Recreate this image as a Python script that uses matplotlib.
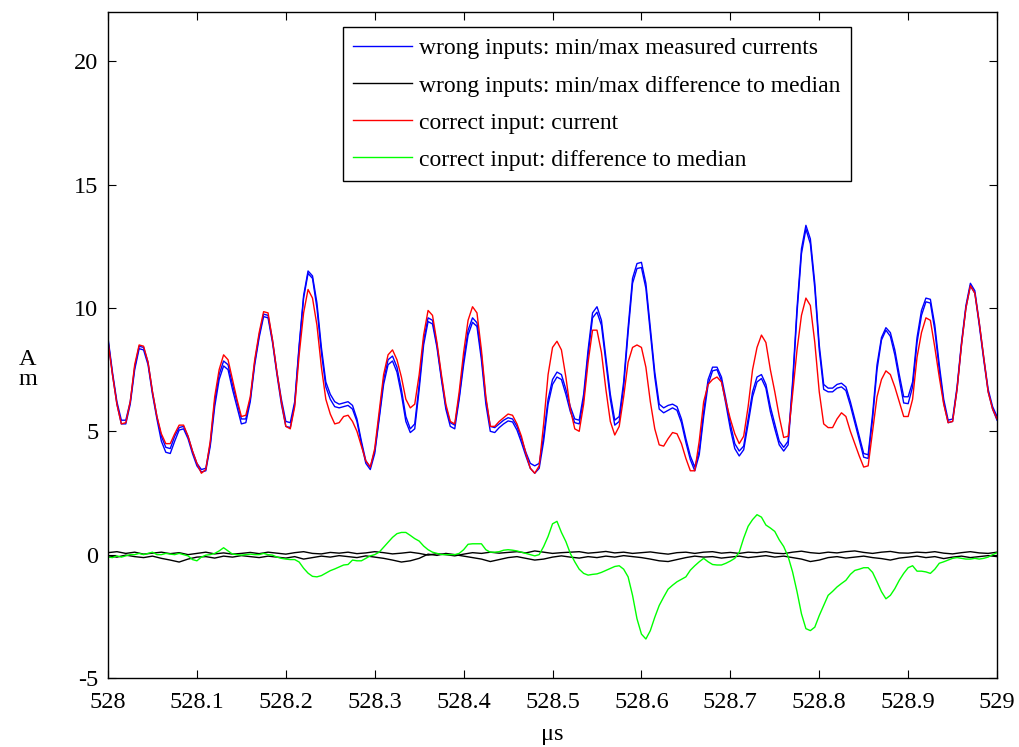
import numpy as np
import matplotlib
matplotlib.use("Agg")
import matplotlib.pyplot as plt

plt.rcParams["font.family"] = ["Liberation Serif", "DejaVu Serif"]
plt.rcParams["axes.unicode_minus"] = False

# sample grid: 528 .. 529 us, 5 ns step
t = np.linspace(528.0, 529.0, 201)

blue_max = [
    8.78, 7.4, 6.2, 5.45, 5.45, 6.2, 7.6, 8.45, 8.4, 7.8,
    6.6, 5.6, 4.8, 4.35, 4.3, 4.8, 5.15, 5.2, 4.8, 4.2,
    3.7, 3.45, 3.5, 4.5, 6.2, 7.3, 7.85, 7.7, 6.9, 6.2,
    5.5, 5.5, 6.3, 7.8, 8.9, 9.75, 9.7, 8.7, 7.4, 6.3,
    5.4, 5.35, 6.2, 8.5, 10.5, 11.5, 11.3, 10.2, 8.4, 7.0,
    6.5, 6.2, 6.1, 6.15, 6.2, 6.05, 5.5, 4.6, 3.8, 3.55,
    4.2, 5.6, 7.1, 7.9, 8.05, 7.6, 6.7, 5.6, 5.1, 5.3,
    6.9, 8.7, 9.6, 9.5, 8.5, 7.2, 6.0, 5.35, 5.25, 6.4,
    7.9, 9.1, 9.6, 9.4, 8.1, 6.3, 5.2, 5.15, 5.3, 5.45,
    5.55, 5.5, 5.2, 4.7, 4.15, 3.7, 3.6, 3.7, 4.8, 6.3,
    7.1, 7.4, 7.3, 6.7, 6.0, 5.5, 5.45, 6.5, 8.3, 9.8,
    10.05, 9.5, 8.0, 6.5, 5.45, 5.6, 7.0, 9.2, 11.2, 11.8,
    11.85, 11.0, 9.2, 7.4, 6.1, 5.95, 6.05, 6.1, 6.0, 5.5,
    4.7, 4.0, 3.55, 4.2, 5.8, 7.1, 7.6, 7.6, 7.2, 6.3,
    5.3, 4.5, 4.2, 4.4, 5.5, 6.6, 7.2, 7.3, 6.9, 6.0,
    5.3, 4.6, 4.35, 4.6, 7.0, 10.0, 12.4, 13.35, 12.8, 11.0,
    8.5, 6.9, 6.75, 6.75, 6.9, 6.95, 6.8, 6.2, 5.5, 4.8,
    4.1, 4.05, 5.7, 7.7, 8.8, 9.2, 9.0, 8.3, 7.3, 6.4,
    6.4, 7.0, 8.8, 9.9, 10.4, 10.35, 9.3, 7.7, 6.3, 5.45,
    5.5, 6.8, 8.6, 10.1, 11.0, 10.7, 9.4, 8.0, 6.7, 6.0,
    5.6,
]

blue_min = [
    8.7, 7.3, 6.1, 5.3, 5.3, 6.1, 7.5, 8.35, 8.3, 7.7,
    6.5, 5.5, 4.6, 4.15, 4.1, 4.6, 5.05, 5.1, 4.7, 4.1,
    3.6, 3.35, 3.4, 4.4, 6.0, 7.1, 7.65, 7.5, 6.7, 6.0,
    5.3, 5.35, 6.2, 7.7, 8.8, 9.65, 9.6, 8.6, 7.3, 6.1,
    5.2, 5.15, 6.1, 8.4, 10.4, 11.4, 11.2, 10.0, 8.2, 6.8,
    6.3, 6.0, 5.95, 6.0, 6.05, 5.9, 5.4, 4.5, 3.7, 3.45,
    4.1, 5.5, 6.9, 7.7, 7.85, 7.4, 6.5, 5.4, 4.95, 5.1,
    6.7, 8.5, 9.45, 9.35, 8.4, 7.1, 5.9, 5.2, 5.1, 6.3,
    7.7, 8.9, 9.42, 9.25, 7.9, 6.1, 5.0, 4.95, 5.15, 5.3,
    5.42, 5.38, 5.05, 4.55, 4.0, 3.5, 3.3, 3.5, 4.6, 6.1,
    6.9, 7.2, 7.1, 6.5, 5.8, 5.35, 5.3, 6.3, 8.1, 9.6,
    9.83, 9.3, 7.8, 6.3, 5.25, 5.4, 6.8, 9.0, 11.0, 11.6,
    11.64, 10.8, 9.0, 7.2, 5.9, 5.75, 5.85, 5.95, 5.85, 5.35,
    4.55, 3.85, 3.4, 4.05, 5.6, 6.9, 7.45, 7.5, 7.05, 6.1,
    5.1, 4.3, 4.0, 4.25, 5.3, 6.4, 7.0, 7.14, 6.75, 5.8,
    5.1, 4.45, 4.2, 4.45, 6.8, 9.8, 12.2, 13.2, 12.6, 10.8,
    8.3, 6.7, 6.6, 6.6, 6.75, 6.8, 6.65, 6.05, 5.35, 4.65,
    3.95, 3.9, 5.5, 7.5, 8.7, 9.1, 8.85, 8.1, 7.1, 6.15,
    6.12, 6.8, 8.6, 9.7, 10.25, 10.2, 9.1, 7.5, 6.15, 5.35,
    5.4, 6.7, 8.5, 10.0, 10.9, 10.6, 9.3, 7.9, 6.6, 5.9,
    5.45,
]

red_current = [
    8.64, 7.3, 6.1, 5.3, 5.35, 6.2, 7.7, 8.5, 8.45, 7.8,
    6.6, 5.6, 4.9, 4.5, 4.5, 4.9, 5.25, 5.25, 4.8, 4.2,
    3.7, 3.3, 3.45, 4.6, 6.4, 7.5, 8.1, 7.9, 7.1, 6.3,
    5.6, 5.65, 6.4, 7.9, 9.0, 9.85, 9.8, 8.7, 7.4, 6.2,
    5.2, 5.1, 6.0, 8.1, 9.8, 10.75, 10.4, 9.3, 7.6, 6.3,
    5.7, 5.3, 5.35, 5.6, 5.65, 5.4, 5.0, 4.4, 3.8, 3.55,
    4.3, 5.8, 7.3, 8.1, 8.3, 7.9, 7.2, 6.3, 5.95, 6.1,
    7.3, 8.9, 9.9, 9.7, 8.6, 7.3, 6.1, 5.4, 5.3, 6.6,
    8.2, 9.5, 10.05, 9.8, 8.3, 6.4, 5.2, 5.2, 5.4, 5.55,
    5.7, 5.65, 5.3, 4.8, 4.1, 3.5, 3.3, 3.6, 5.3, 7.3,
    8.4, 8.65, 8.3, 7.2, 5.9, 5.1, 5.0, 6.1, 7.8, 9.1,
    9.1, 8.2, 6.7, 5.4, 4.85, 5.2, 6.4, 7.8, 8.4, 8.5,
    8.4, 7.6, 6.2, 5.1, 4.45, 4.4, 4.7, 4.95, 4.9, 4.5,
    3.9, 3.4, 3.4, 4.6, 6.2, 6.9, 7.1, 7.2, 7.0, 6.2,
    5.5, 4.9, 4.5, 4.8, 6.0, 7.5, 8.4, 8.9, 8.6, 7.5,
    6.6, 5.6, 4.75, 4.8, 6.5, 8.3, 9.7, 10.4, 10.1, 8.6,
    6.6, 5.3, 5.15, 5.15, 5.5, 5.75, 5.6, 5.0, 4.5, 4.0,
    3.55, 3.6, 5.0, 6.4, 7.1, 7.45, 7.3, 6.8, 6.2, 5.6,
    5.6, 6.3, 8.0, 9.0, 9.6, 9.5, 8.4, 7.2, 6.1, 5.35,
    5.4, 6.7, 8.5, 10.0, 10.9, 10.6, 9.4, 8.0, 6.6, 5.9,
    5.5,
]

green_diff = [
    -0.10, -0.12, -0.05, -0.10, -0.05, 0.00, 0.00, 0.05, 0.00, 0.05,
    0.10, 0.00, 0.00, 0.05, 0.02, 0.00, 0.05, 0.00, -0.05, -0.20,
    -0.25, -0.10, -0.02, 0.00, 0.05, 0.15, 0.28, 0.15, 0.02, 0.00,
    -0.02, 0.00, 0.02, 0.00, 0.00, 0.05, 0.00, -0.02, -0.10, -0.15,
    -0.18, -0.20, -0.20, -0.30, -0.55, -0.75, -0.88, -0.90, -0.85, -0.75,
    -0.65, -0.58, -0.50, -0.42, -0.40, -0.22, -0.25, -0.25, -0.15, -0.05,
    0.00, 0.10, 0.30, 0.50, 0.70, 0.85, 0.90, 0.90, 0.78, 0.65,
    0.55, 0.35, 0.20, 0.10, 0.05, 0.00, 0.00, 0.00, 0.00, 0.05,
    0.20, 0.42, 0.44, 0.44, 0.44, 0.20, 0.10, 0.10, 0.12, 0.18,
    0.20, 0.18, 0.15, 0.10, 0.05, 0.00, -0.05, 0.00, 0.33, 0.74,
    1.25, 1.35, 0.90, 0.53, 0.05, -0.29, -0.59, -0.76, -0.83, -0.80,
    -0.78, -0.72, -0.64, -0.56, -0.48, -0.45, -0.59, -0.90, -1.65, -2.60,
    -3.22, -3.42, -3.08, -2.54, -2.06, -1.72, -1.40, -1.24, -1.10, -1.00,
    -0.90, -0.63, -0.45, -0.29, -0.15, -0.29, -0.40, -0.42, -0.42, -0.35,
    -0.26, -0.15, 0.10, 0.67, 1.15, 1.42, 1.62, 1.52, 1.20, 1.08,
    0.94, 0.60, 0.33, -0.08, -0.70, -1.50, -2.40, -3.00, -3.08, -2.94,
    -2.47, -2.06, -1.65, -1.49, -1.31, -1.17, -1.04, -0.80, -0.64, -0.59,
    -0.53, -0.53, -0.72, -1.10, -1.50, -1.79, -1.65, -1.38, -1.04, -0.76,
    -0.53, -0.45, -0.67, -0.67, -0.70, -0.76, -0.59, -0.35, -0.29, -0.22,
    -0.15, -0.12, -0.15, -0.18, -0.18, -0.15, -0.18, -0.15, -0.10, 0.00,
    0.08,
]

# wrong inputs, min/max difference to median (10 ns step)
t_coarse = np.linspace(528.0, 529.0, 101)

black_hi = [
    0.08, 0.12, 0.05, 0.10, 0.02, 0.06, 0.10, 0.04, 0.08, 0.00,
    0.05, 0.10, 0.03, 0.07, 0.02, 0.05, 0.09, 0.04, 0.10, 0.06,
    0.02, 0.08, 0.12, 0.05, 0.03, 0.09, 0.06, 0.10, 0.04, 0.07,
    0.12, 0.08, 0.03, 0.06, 0.10, 0.05, -0.02, 0.04, 0.00, -0.05,
    0.02, 0.08, 0.05, 0.10, 0.06, 0.09, 0.12, 0.07, 0.15, 0.10,
    0.05, 0.08, 0.10, 0.12, 0.06, 0.09, 0.13, 0.07, 0.10, 0.05,
    0.08, 0.11, 0.06, 0.02, 0.08, 0.10, 0.05, 0.10, 0.12, 0.06,
    0.09, 0.05, 0.10, 0.08, 0.12, 0.06, 0.04, 0.10, 0.14, 0.08,
    0.05, 0.10, 0.07, 0.12, 0.15, 0.09, 0.05, 0.10, 0.13, 0.07,
    0.06, 0.10, 0.08, 0.12, 0.06, 0.03, 0.08, 0.12, 0.07, 0.05,
    0.10,
]

black_lo = [
    -0.05, -0.10, -0.02, -0.08, -0.12, -0.06, -0.15, -0.22, -0.30, -0.18,
    -0.10, -0.08, -0.14, -0.06, -0.10, -0.04, -0.08, -0.12, -0.06, -0.10,
    -0.14, -0.08, -0.18, -0.12, -0.06, -0.10, -0.04, -0.08, -0.12, -0.05,
    -0.10, -0.15, -0.22, -0.30, -0.25, -0.15, 0.02, -0.03, 0.05, 0.00,
    -0.06, -0.12, -0.18, -0.28, -0.20, -0.12, -0.08, -0.15, -0.22, -0.18,
    -0.10, -0.05, -0.10, -0.14, -0.08, -0.12, -0.06, -0.10, -0.04, -0.08,
    -0.12, -0.18, -0.25, -0.28, -0.20, -0.12, -0.06, -0.10, -0.08, -0.14,
    -0.10, -0.06, -0.12, -0.08, -0.04, -0.10, -0.06, -0.12, -0.18, -0.28,
    -0.22, -0.12, -0.08, -0.14, -0.10, -0.06, -0.12, -0.16, -0.22, -0.14,
    -0.10, -0.06, -0.12, -0.08, -0.16, -0.10, -0.06, -0.12, -0.08, -0.04,
    -0.08,
]

legend_labels = [
    "wrong inputs: min/max measured currents",
    "wrong inputs: min/max difference to median",
    "correct input: current",
    "correct input: difference to median",
]

x_ticks = [528, 528.1, 528.2, 528.3, 528.4, 528.5, 528.6, 528.7, 528.8, 528.9, 529]
x_tick_labels = ["528", "528.1", "528.2", "528.3", "528.4", "528.5",
                 "528.6", "528.7", "528.8", "528.9", "529"]
y_ticks = [-5, 0, 5, 10, 15, 20]

fig = plt.figure(figsize=(10.2, 7.47), dpi=100)
ax = fig.add_axes([0.1059, 0.0924, 0.8716, 0.8916])

lw = 1.0
h_blue, = ax.plot(t, blue_max, color="#0000ff", lw=lw)
ax.plot(t, blue_min, color="#0000ff", lw=lw)
h_black, = ax.plot(t_coarse, black_hi, color="black", lw=lw)
ax.plot(t_coarse, black_lo, color="black", lw=lw)
h_red, = ax.plot(t, red_current, color="#ff0000", lw=lw)
h_green, = ax.plot(t, green_diff, color="#00ff00", lw=lw)

ax.set_xlim(528, 529)
ax.set_ylim(-5, 22)
ax.set_xticks(x_ticks)
ax.set_xticklabels(x_tick_labels)
ax.set_yticks(y_ticks)
ax.tick_params(direction="in", length=6, width=0.8, labelsize=17.5,
               top=True, right=True)
ax.tick_params(axis="x", pad=10)
ax.tick_params(axis="y", pad=7)
for s in ax.spines.values():
    s.set_linewidth(1.0)

ax.set_xlabel("\u03bcs", fontsize=17.5, labelpad=8)
fig.text(0.027, 0.505, "A\nm", fontsize=17.5, ha="center", va="center",
         linespacing=0.95)

leg = ax.legend([h_blue, h_black, h_red, h_green], legend_labels,
                loc="upper right", bbox_to_anchor=(0.836, 0.977),
                borderaxespad=0, fontsize=17, handlelength=2.5,
                handletextpad=0.3, labelspacing=0.66, borderpad=0.45,
                fancybox=False, framealpha=1, edgecolor="black")
leg.get_frame().set_linewidth(1.0)

fig.savefig("out.png", dpi=100)
